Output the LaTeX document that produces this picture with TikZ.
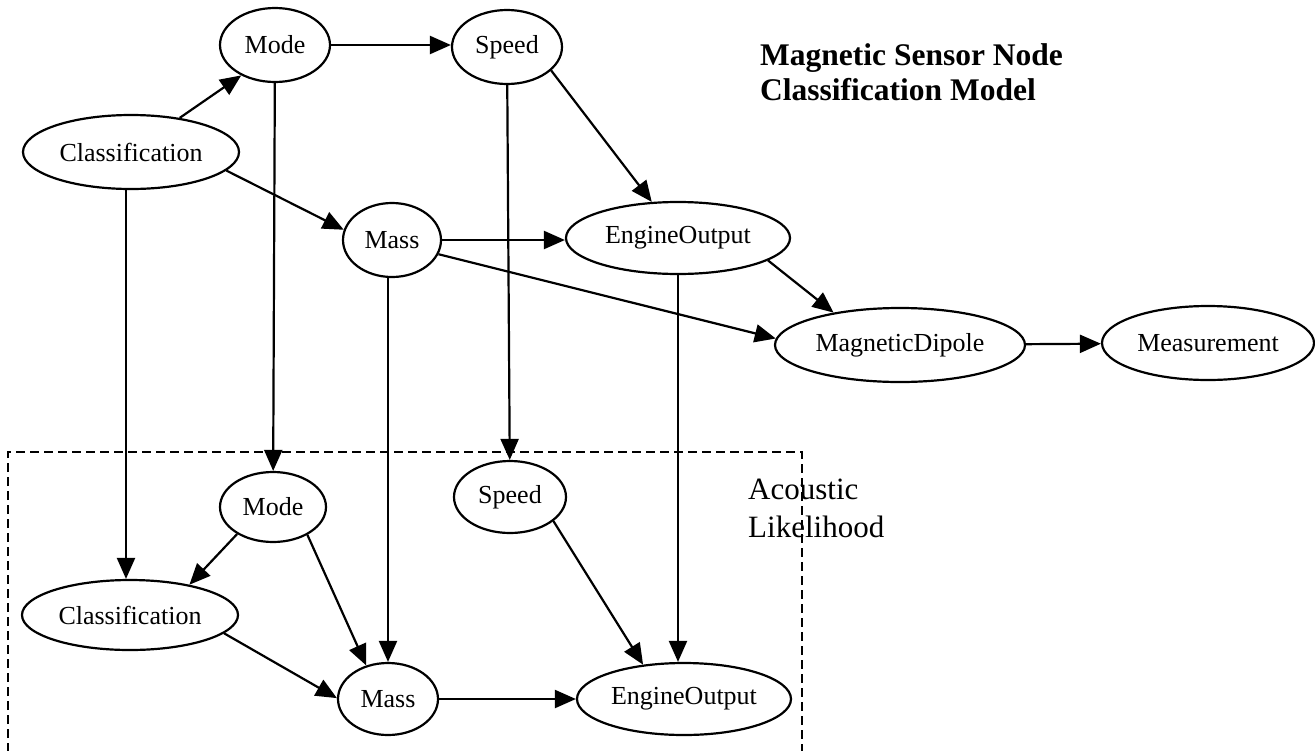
\documentclass[tikz,border=0pt]{standalone}
\usepackage{fontspec}
\setmainfont{Liberation Serif}
\usetikzlibrary{arrows.meta,shapes.geometric}
\begin{document}
\begin{tikzpicture}[x=1pt,y=-1pt,
  nd/.style={ellipse, draw, line width=2.2pt, inner sep=0pt, font=\fontsize{26}{30}\selectfont},
  arr/.style={line width=2.2pt, -{Triangle[length=21pt,width=18pt]}},
  lbl/.style={anchor=base west, inner sep=0pt},
  box/.style={line width=2.2pt, dash pattern=on 9pt off 5pt}
]
\useasboundingbox (0,0) rectangle (1315,750);
% upper model
\node[nd, minimum width=110pt, minimum height=74pt] (mode) at (275,45) {Mode};
\node[nd, minimum width=110pt, minimum height=74pt] (speed) at (507,47) {Speed};
\node[nd, minimum width=216pt, minimum height=74pt] (cls) at (131,152) {Classification};
\node[nd, minimum width=98pt, minimum height=74pt] (mass) at (392,240) {Mass};
\node[nd, minimum width=224pt, minimum height=72pt] (eo) at (678,238) {EngineOutput};
\node[nd, minimum width=250pt, minimum height=74pt] (md) at (900,345) {MagneticDipole};
\node[nd, minimum width=212pt, minimum height=74pt] (meas) at (1208,343) {Measurement};
% lower model
\node[nd, minimum width=106pt, minimum height=70pt] (mode2) at (273,507) {Mode};
\node[nd, minimum width=112pt, minimum height=72pt] (speed2) at (510,497) {Speed};
\node[nd, minimum width=216pt, minimum height=70pt] (cls2) at (130,615) {Classification};
\node[nd, minimum width=100pt, minimum height=72pt] (mass2) at (388,699) {Mass};
\node[nd, minimum width=214pt, minimum height=72pt] (eo2) at (684,699) {EngineOutput};
% titles
\node[lbl, font=\bfseries\fontsize{31.5}{35}\selectfont] (t1) at (760,65) {Magnetic Sensor Node};
\node[lbl, font=\bfseries\fontsize{31.5}{35}\selectfont] (t2) at (760,100) {Classification Model};
\node[lbl, font=\fontsize{31}{37}\selectfont] (a1) at (748,499) {Acoustic};
\node[lbl, font=\fontsize{31}{37}\selectfont] (a2) at (748,537) {Likelihood};
% dashed frame
\draw[box] (8,752) -- (8,452) -- (802,452) -- (802,752);
% upper edges
\draw[arr] (cls.35) -- (mode.222);
\draw[arr] (mode.east) -- (mode.east -| speed.west);
\draw[arr] (cls.-11) -- (mass.168);
\draw[arr] (speed.-28) -- (eo.126);
\draw[arr] (mass.east) -- (mass.east -| eo.west);
\draw[arr] (mass.-17) -- (md.177);
\draw[arr] (eo.-14) -- (md.154);
\draw[arr] (md) -- (meas);
% cross edges
\draw[arr] ([xshift=-5pt]cls.south) -- ([xshift=-4pt]cls2.north);
\draw[arr] (mode) -- (mode2);
\draw[arr] (speed) -- (speed2);
\draw[arr] (mass2 |- mass.south) -- (mass2.north);
\draw[arr] (eo.south) -- (eo.south |- eo2.north);
% lower edges
\draw[arr] (mode2.217) -- (cls2.27);
\draw[arr] (mode2.-39) -- (mass2.123);
\draw[arr] (cls2.-11) -- (mass2.179);
\draw[arr] (mass2) -- (eo2);
\draw[arr] (speed2.-29) -- (eo2.140);
\end{tikzpicture}
\end{document}
